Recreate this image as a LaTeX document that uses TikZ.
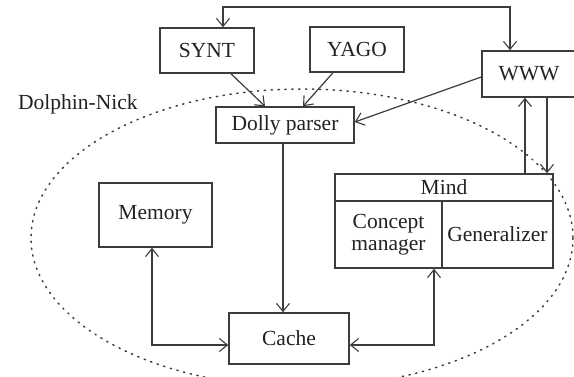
\documentclass[tikz,border=0pt]{standalone}
\usepackage{fontspec}
\setmainfont{Liberation Serif}
\usetikzlibrary{arrows.meta,calc}
\definecolor{ink}{HTML}{222222}
\definecolor{edge}{HTML}{3C3C3C}
\tikzset{
  box/.style={draw=edge, line width=1.5pt, rectangle, inner sep=0pt,
    text=ink, font=\fontsize{21.5}{20}\selectfont, align=center},
  link/.style={draw=edge, line width=1.2pt},
  tip/.style={-{Straight Barb[length=8pt,width=13pt,line width=1.1pt]}},
  tips/.style={{Straight Barb[length=8pt,width=13pt,line width=1.1pt]}-{Straight Barb[length=8pt,width=13pt,line width=1.1pt]}},
  boundary/.style={draw=edge, line width=1.5pt, dash pattern=on 1.3pt off 5.6pt, line cap=round}
}
\begin{document}
\begin{tikzpicture}[x=1pt,y=-1pt]
\useasboundingbox (0,0) rectangle (574,376);
\fill[white] (0,0) rectangle (574,376);

% system boundary
\draw[boundary] (302,238) ellipse [x radius=271, y radius=149];
\node[text=ink, font=\fontsize{21.5}{20}\selectfont, anchor=west, inner sep=0pt] (dn) at (18,104) {Dolphin-Nick};

% components
\node[box, minimum width=94pt, minimum height=45pt] (synt) at (207,50.5) {SYNT};
\node[box, minimum width=94pt, minimum height=45pt] (yago) at (357,49.5) {YAGO};
\node[box, minimum width=94pt, minimum height=46pt] (www) at (529,74) {WWW};
\node[box, minimum width=138pt, minimum height=36pt] (dolly) at (285,125) {Dolly parser};
\node[box, minimum width=113pt, minimum height=64pt] (memory) at (155.5,215) {Memory};
\node[box, minimum width=120pt, minimum height=51pt] (cache) at (289,338.5) {Cache};

% Mind with its two parts
\node[box, minimum width=218pt, minimum height=27pt] (mind) at (444,187.5) {Mind};
\node[box, minimum width=107pt, minimum height=67pt, font=\fontsize{21.5}{22.5}\selectfont] (concept) at (388.5,234.5) {Concept\\manager};
\node[box, minimum width=111pt, minimum height=67pt] (general) at (497.5,234.5) {Generalizer};

% connectors
\coordinate (topR) at (510,7);
\draw[link, tips] ([xshift=16pt]synt.north) |- (topR) -- ([xshift=-19pt]www.north);
\draw[link, tip] ([xshift=24pt]synt.south) -- ([xshift=-20pt]dolly.north);
\draw[link, tip] ([xshift=-24pt]yago.south) -- ([xshift=18pt]dolly.north);
\draw[link, tip] ([yshift=-3pt]www.west) -- ([yshift=3pt]dolly.east);
\draw[link, tip] ([xshift=-2pt]dolly.south) -- ([xshift=-6pt]cache.north);
\draw[link, tips] ([xshift=-3.5pt]memory.south) |- ([yshift=-6.5pt]cache.west);
\draw[link, tips] ([yshift=-6.5pt]cache.east) -| ([xshift=45.5pt]concept.south);
\draw[link, tip] ([xshift=81pt]mind.north) -- ([xshift=-4pt]www.south);
\draw[link, tip] ([xshift=18pt]www.south) -- ([xshift=103pt]mind.north);
\end{tikzpicture}
\end{document}
